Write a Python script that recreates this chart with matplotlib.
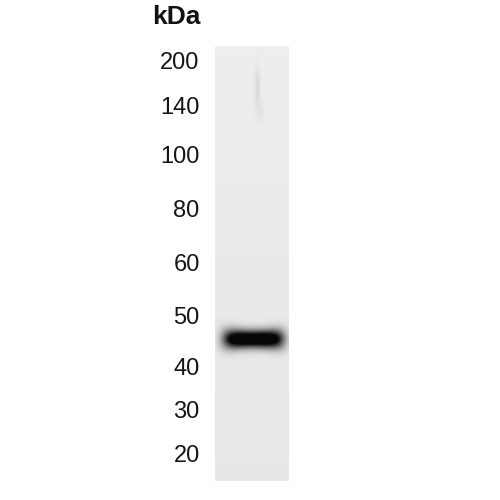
import numpy as np
import matplotlib
matplotlib.use("Agg")
import matplotlib.pyplot as plt

# Marker ladder (kDa) and their vertical positions on the blot (pixels from top)
marker_kda = [200, 140, 100, 80, 60, 50, 40, 30, 20]
marker_labels = ["200", "140", "100", "80", "60", "50", "40", "30", "20"]
marker_pos = [60, 105, 154, 208, 262, 315, 366, 409, 453]

# Detected band
band_kda = 45

plt.rcParams['font.family'] = ['Liberation Sans', 'DejaVu Sans']

W, H = 500, 500
fig = plt.figure(figsize=(5, 5), dpi=100)
fig.patch.set_facecolor('white')

lane_left, lane_right, lane_top, lane_bottom = 215, 289, 46, 481
ax = fig.add_axes([lane_left / W, (H - lane_bottom) / H,
                   (lane_right - lane_left) / W, (lane_bottom - lane_top) / H])

# band position interpolated on log-kDa from ladder
lk = np.log(np.array(marker_kda, dtype=float))
band_y = float(np.interp(np.log(band_kda), lk[::-1], np.array(marker_pos, float)[::-1]))

# lane image in pixel coordinates
xs = np.arange(lane_left, lane_right) + 0.5
ys = np.arange(lane_top, lane_bottom) + 0.5
X, Y = np.meshgrid(xs, ys)
bg = 0.93 - 0.025 * (Y - lane_top) / (lane_bottom - lane_top)
# faint streak near top
streak = 0.08 * np.exp(-((X - 257.5) / 2.5) ** 2) * np.exp(-((Y - 88) / 20) ** 2)
streak += 0.04 * np.exp(-((X - 261) / 2.5) ** 2) * np.exp(-((Y - 112) / 10) ** 2)
# band
xc = 253.5
hx = 30
thick = 8.5 + 2.0 * ((X - xc) / hx) ** 2
d = np.exp(-(np.abs(X - xc) / hx) ** 5) * np.exp(-(np.abs(Y - band_y) / thick) ** 2.0)
img = bg * (1 - np.clip(1.35 * d, 0, 0.97)) - streak
img = np.clip(img, 0, 1)

ax.imshow(img, cmap='gray', vmin=0, vmax=1, interpolation='bilinear',
          extent=(lane_left, lane_right, lane_bottom, lane_top), aspect='auto')
ax.set_xlim(lane_left, lane_right)
ax.set_ylim(lane_bottom, lane_top)
for s in ax.spines.values():
    s.set_visible(False)
ax.set_xticks([])
ax.set_yticks(marker_pos)
ax.set_yticklabels(marker_labels, fontsize=17, color='#151515')
ax.tick_params(axis='y', length=0, pad=11)

fig.text(200 / W, 1 - 17.5 / H, "kDa", ha='right', va='center',
         fontsize=19, fontweight='bold', color='#111111')

fig.savefig("out.png", dpi=100, facecolor='white')
